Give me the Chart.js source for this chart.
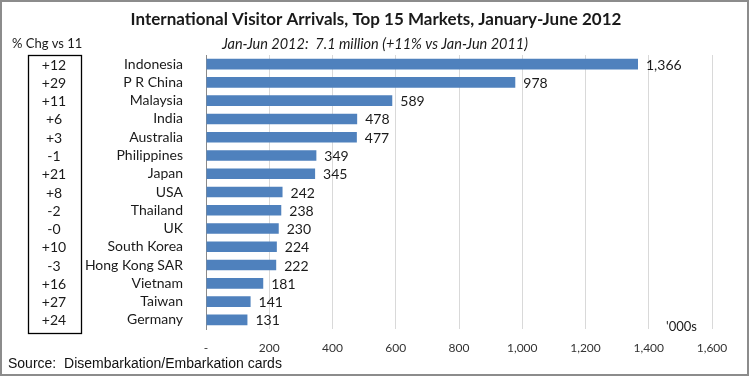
<!DOCTYPE html>
<html><head><meta charset="utf-8">
<script src="https://cdn.jsdelivr.net/npm/chart.js@4"></script>
<style>html,body{margin:0;padding:0;background:#fff}#wrap{width:749px;height:376px;position:relative}</style>
</head><body><div id="wrap"><canvas id="c" width="749" height="376"></canvas></div>
<script>
const categories = ["Indonesia","P R China","Malaysia","India","Australia","Philippines","Japan","USA","Thailand","UK","South Korea","Hong Kong SAR","Vietnam","Taiwan","Germany"];
const arrivals = [1366,978,589,478,477,349,345,242,238,230,224,222,181,141,131];
const pctChange = ["+12","+29","+11","+6","+3","-1","+21","+8","-2","-0","+10","-3","+16","+27","+24"];
const xTicks = [0,200,400,600,800,1000,1200,1400,1600];
const titleText = "International Visitor Arrivals, Top 15 Markets, January-June 2012";
const subtitleText = "Jan-Jun 2012:  7.1 million (+11% vs Jan-Jun 2011)";
const pctHeader = "% Chg vs 11";
const unitText = "'000s";
const sourceText = "Source:  Disembarkation/Embarkation cards";

const F = "Lato, 'Open Sans', sans-serif";
const fmt = v => v === 0 ? "-" : v.toLocaleString("en-US");

const extras = {
  id: "extras",
  afterDraw(chart) {
    const ctx = chart.ctx, x = chart.scales.x, y = chart.scales.y;
    ctx.save();
    ctx.strokeStyle = "#8c8c8c"; ctx.lineWidth = 2;
    ctx.strokeRect(1, 1, 747, 374);
    ctx.fillStyle = "#1a1a1a"; ctx.textAlign = "center"; ctx.textBaseline = "middle";
    ctx.font = "bold 17px " + F;
    ctx.fillText(titleText, 376, 20);
    ctx.font = "italic 14.5px " + F;
    ctx.fillText(subtitleText, 375, 44);
    ctx.textAlign = "left";
    ctx.font = "13px " + F;
    ctx.fillText(pctHeader, 12, 44);
    ctx.strokeStyle = "#000"; ctx.lineWidth = 1.3;
    ctx.strokeRect(28.5, 55.5, 53, 278);
    ctx.textAlign = "center";
    ctx.font = "14px " + F;
    pctChange.forEach((p, i) => ctx.fillText(p, 54, y.getPixelForValue(i) + 1));
    ctx.textAlign = "left";
    ctx.font = "14px " + F;
    arrivals.forEach((v, i) => ctx.fillText(fmt(v), x.getPixelForValue(v) + 8, y.getPixelForValue(i) + 1));
    ctx.font = "13px " + F;
    ctx.fillText(unitText, 666, 327);
    ctx.font = "14px 'Liberation Sans', Arial, sans-serif";
    ctx.fillStyle = "#111";
    ctx.fillText(sourceText, 8, 364);
    ctx.restore();
  }
};

new Chart(document.getElementById("c"), {
  type: "bar",
  data: { labels: categories, datasets: [{ data: arrivals, backgroundColor: "#4f81bd", borderWidth: 0, categoryPercentage: 1, barPercentage: 0.58 }] },
  options: {
    indexAxis: "y", responsive: false, animation: false,
    layout: { padding: { left: 0, right: 37, top: 55, bottom: 0 } },
    plugins: { legend: { display: false }, tooltip: { enabled: false } },
    scales: {
      x: {
        min: 0, max: 1600,
        afterBuildTicks: s => { s.ticks = xTicks.map(v => ({ value: v })); },
        afterFit: s => { s.height = 47; },
        grid: { color: "#d9d9d9", drawTicks: false },
        border: { display: false },
        ticks: { padding: 12, color: "#333", font: { family: F, size: 12 }, callback: v => fmt(v) }
      },
      y: {
        afterFit: s => { s.width = 206; },
        grid: { display: false, drawTicks: false },
        border: { display: true, color: "#8a8a8a", width: 1 },
        ticks: { autoSkip: false, padding: 23, color: "#1a1a1a", font: { family: F, size: 14 } }
      }
    }
  },
  plugins: [extras]
});
</script></body></html>
